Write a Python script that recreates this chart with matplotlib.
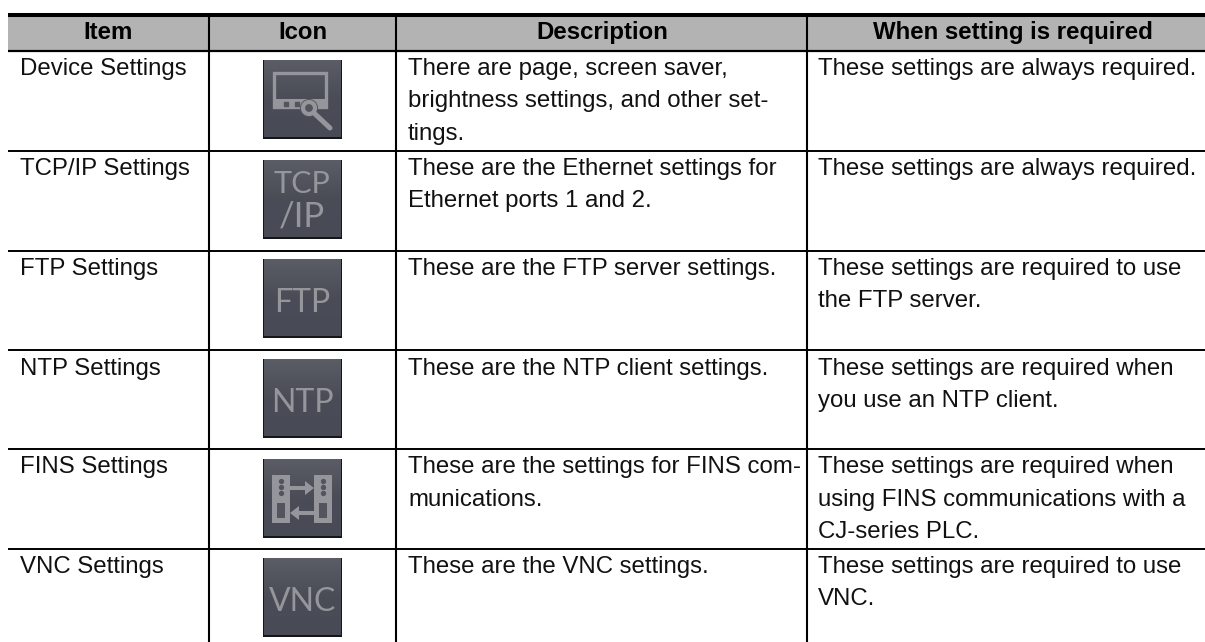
import numpy as np
import matplotlib
matplotlib.use("Agg")
import matplotlib.pyplot as plt

plt.rcParams['font.family'] = ['Liberation Sans', 'DejaVu Sans']

headers = ["Item", "Icon", "Description", "When setting is required"]
items = ["Device Settings", "TCP/IP Settings", "FTP Settings", "NTP Settings", "FINS Settings", "VNC Settings"]
descriptions = [
    ["There are page, screen saver,", "brightness settings, and other set-", "tings."],
    ["These are the Ethernet settings for", "Ethernet ports 1 and 2."],
    ["These are the FTP server settings."],
    ["These are the NTP client settings."],
    ["These are the settings for FINS com-", "munications."],
    ["These are the VNC settings."],
]
required = [
    ["These settings are always required."],
    ["These settings are always required."],
    ["These settings are required to use", "the FTP server."],
    ["These settings are required when", "you use an NTP client."],
    ["These settings are required when", "using FINS communications with a", "CJ-series PLC."],
    ["These settings are required to use", "VNC."],
]
icon_labels = [None, ["TCP", "/IP"], ["FTP"], ["NTP"], None, ["VNC"]]

# layout in pixels
W, H = 1205, 642
LEFT = 8
col_lines = [209, 396, 807]
row_lines = [150.5, 250.5, 350, 449, 548.5]
row_tops = [50.5, 150.5, 250.5, 350, 449, 548.5]
icon_tops = [61, 161, 260, 360, 460, 559]
header_x = [108.5, 302.5, 602.5, 1013]
ICON_X, ICON_S = 264, 76.5
LINE_PITCH = 32.4
FS = 17.25
GLYPH = "#94969b"
ICON_BG = "#53555e"

fig = plt.figure(figsize=(W / 100, H / 100), dpi=100)
ax = fig.add_axes([0, 0, 1, 1])
ax.set_xlim(0, W)
ax.set_ylim(H, 0)
ax.axis('off')


def IconText(y, label, size=22):
    ax.text(ICON_X + ICON_S / 2, y, label, ha='center', va='baseline', fontsize=size, color=GLYPH,
            family=['Lato', 'DejaVu Sans'], zorder=5)


def DeviceGlyph(x0, y0):
    # monitor with a wrench
    ax.add_patch(plt.Rectangle((x0 + 10, y0 + 12), 52, 34, fill=False, ec=GLYPH, lw=2.4, zorder=4))
    ax.add_patch(plt.Rectangle((x0 + 9, y0 + 38), 54, 9, fc=GLYPH, ec='none', zorder=4))
    ax.plot([x0 + 22, x0 + 33], [y0 + 43, y0 + 43], ls='none', marker='s', ms=2.2, color=ICON_BG, zorder=5)
    ax.add_patch(plt.Circle((x0 + 45, y0 + 47), 9, fc=ICON_BG, ec='none', zorder=4))
    ax.add_patch(plt.Circle((x0 + 45, y0 + 47), 6, fill=False, ec=GLYPH, lw=3, zorder=5))
    ax.plot([x0 + 50, x0 + 66], [y0 + 52, y0 + 67], color=GLYPH, lw=3.6, solid_capstyle='round', zorder=5)


def FinsGlyph(x0, y0):
    # two units and two arrows
    for dx in (8, 50):
        ax.add_patch(plt.Rectangle((x0 + dx, y0 + 15), 18, 48, fc=GLYPH, ec='none', zorder=4))
        ax.add_patch(plt.Rectangle((x0 + dx + 5, y0 + 43), 8, 15, fc=ICON_BG, ec='none', zorder=5))
        ax.plot([x0 + dx + 9] * 3, [y0 + 21, y0 + 27, y0 + 33], ls='none', marker='o', ms=2.8, color=ICON_BG, zorder=5)
    ax.add_patch(plt.Polygon([(x0 + 26, y0 + 26), (x0 + 41, y0 + 26), (x0 + 41, y0 + 21), (x0 + 50, y0 + 28),
                              (x0 + 41, y0 + 35), (x0 + 41, y0 + 30), (x0 + 26, y0 + 30)], fc=GLYPH, ec='none', zorder=4))
    ax.add_patch(plt.Polygon([(x0 + 50, y0 + 51), (x0 + 35, y0 + 51), (x0 + 35, y0 + 46), (x0 + 26, y0 + 53),
                              (x0 + 35, y0 + 60), (x0 + 35, y0 + 55), (x0 + 50, y0 + 55)], fc=GLYPH, ec='none', zorder=4))


# header band and rules
ax.add_patch(plt.Rectangle((LEFT, 15), W - LEFT, 35, fc="#b3b3b3", ec='none', zorder=1))
ax.plot([LEFT, W], [15, 15], color='black', lw=2.9, solid_capstyle='butt', zorder=3)
ax.plot([LEFT, W], [50.5, 50.5], color='black', lw=1.6, solid_capstyle='butt', zorder=3)
for y in row_lines:
    ax.plot([LEFT, W], [y, y], color='black', lw=1.4, solid_capstyle='butt', zorder=3)
for x in col_lines:
    ax.plot([x, x], [15, H], color='black', lw=1.5, solid_capstyle='butt', zorder=3)

for x, label in zip(header_x, headers):
    ax.text(x, 39, label, ha='center', va='baseline', fontsize=FS, fontweight='bold', color='black', zorder=5)

grad = np.linspace(0, 1, 64).reshape(-1, 1)
icon_cmap = matplotlib.colors.LinearSegmentedColormap.from_list("ic", ["#5b5d66", "#4a4c56", "#484b57"])
for i, top in enumerate(row_tops):
    ax.text(20, top + 24.5, items[i], ha='left', va='baseline', fontsize=FS, color='#111111', zorder=5)
    for j, line in enumerate(descriptions[i]):
        ax.text(408, top + 24.5 + j * LINE_PITCH, line, ha='left', va='baseline', fontsize=FS, color='#111111', zorder=5)
    for j, line in enumerate(required[i]):
        ax.text(818, top + 24.5 + j * LINE_PITCH, line, ha='left', va='baseline', fontsize=FS, color='#111111', zorder=5)

    # icon
    y0 = icon_tops[i]
    ax.add_patch(plt.Rectangle((ICON_X - 1, y0 - 1), ICON_S + 2, ICON_S + 2, fc="#15161a", ec='none', zorder=2))
    ax.imshow(grad, extent=(ICON_X, ICON_X + ICON_S, y0 + ICON_S, y0), aspect='auto', zorder=3, cmap=icon_cmap)
    labels = icon_labels[i]
    if i == 0:
        DeviceGlyph(ICON_X, y0)
    elif labels is None:
        FinsGlyph(ICON_X, y0)
    elif len(labels) == 2:
        IconText(y0 + 32, labels[0], 22)
        IconText(y0 + 66, labels[1], 25)
    else:
        IconText(y0 + 52, labels[0], 23)

ax.set_xlim(0, W)
ax.set_ylim(H, 0)
fig.savefig("out.png", dpi=100)
